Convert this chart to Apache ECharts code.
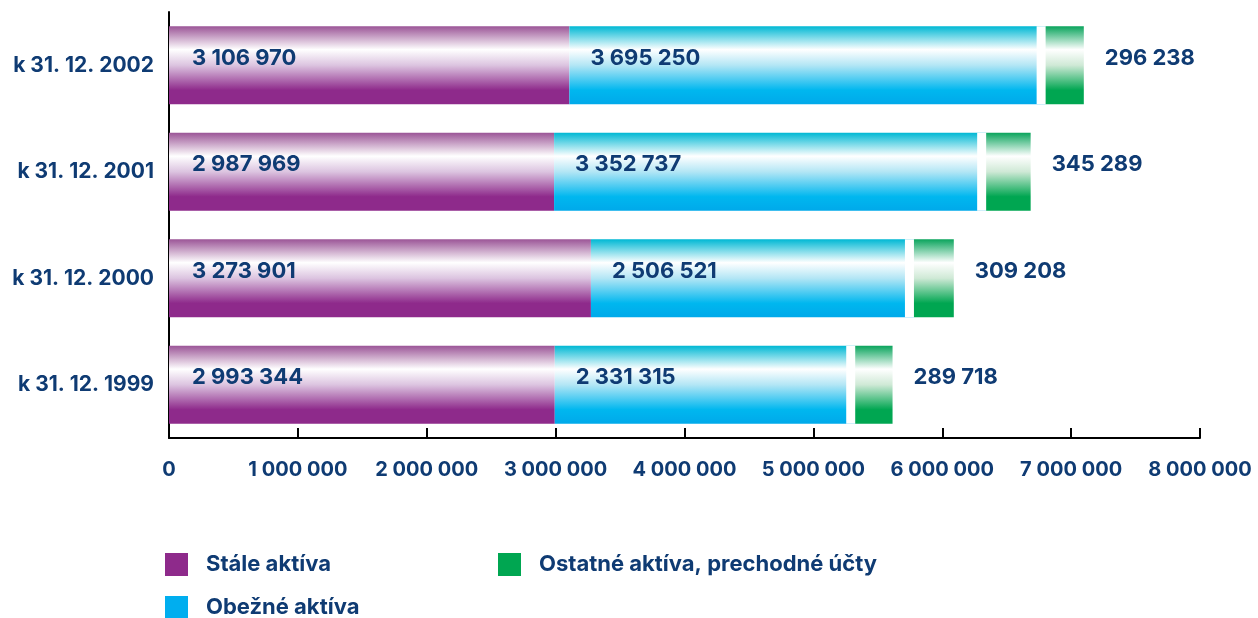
<!DOCTYPE html>
<html><head><meta charset="utf-8">
<script src="https://cdn.jsdelivr.net/npm/echarts@6/dist/echarts.min.js"></script>
<style>html,body{margin:0;padding:0;background:#fff}#c{width:1258px;height:618px}</style>
</head><body><div id="c"></div>
<script>
var categories = ['k 31. 12. 1999', 'k 31. 12. 2000', 'k 31. 12. 2001', 'k 31. 12. 2002'];
var staleAktiva = [2993344, 3273901, 2987969, 3106970];
var obezneAktiva = [2331315, 2506521, 3352737, 3695250];
var ostatneAktiva = [289718, 309208, 345289, 296238];
var seriesNames = ['Stále aktíva', 'Obežné aktíva', 'Ostatné aktíva, prechodné účty'];
var xTickLabels = ['0', '1 000 000', '2 000 000', '3 000 000', '4 000 000', '5 000 000', '6 000 000', '7 000 000', '8 000 000'];

var TXT = '#0f3b73';
var FONT = 'Inter';
function fmt(v){ return String(v).replace(/\B(?=(\d{3})+(?!\d))/g, ' '); }
function grad(top, mid, low, bottom){
  return new echarts.graphic.LinearGradient(0,0,0,1,[
    {offset:0,color:top},{offset:0.3,color:'#ffffff'},{offset:0.5,color:mid},{offset:0.82,color:low},{offset:1,color:bottom}]);
}
var lbl = {show:true, color:TXT, fontFamily:FONT, fontWeight:'bold', fontSize:22, formatter:function(p){return fmt(p.value);}, offset:[0,-7]};
var legText = {color:TXT, fontFamily:FONT, fontWeight:'bold', fontSize:22, padding:[0,0,0,13]};

var chart = echarts.init(document.getElementById('c'), null, {renderer:'canvas'});
chart.setOption({
  animation:false,
  backgroundColor:'#fff',
  grid:{left:169, right:58, top:12, bottom:180, containLabel:false},
  xAxis:{type:'value', min:0, max:8000000, interval:1000000,
    axisLine:{show:true, lineStyle:{color:'#000', width:2}},
    axisTick:{show:true, inside:true, length:10, lineStyle:{color:'#000', width:2}},
    splitLine:{show:false},
    axisLabel:{color:TXT, fontFamily:FONT, fontWeight:'bold', fontSize:20, margin:22,
      formatter:function(v){ return xTickLabels[Math.round(v/1000000)]; }}},
  yAxis:{type:'category', data:categories,
    axisLine:{show:true, lineStyle:{color:'#000', width:2}},
    axisTick:{show:false},
    axisLabel:{color:TXT, fontFamily:FONT, fontWeight:'bold', fontSize:21, margin:15}},
  legend:[
    {left:165, top:553, padding:0, itemWidth:23, itemHeight:23, icon:'rect', selectedMode:false,
     textStyle:legText, data:[{name:seriesNames[0], itemStyle:{color:'#8e2a8b'}}]},
    {left:165, top:596, padding:0, itemWidth:23, itemHeight:23, icon:'rect', selectedMode:false,
     textStyle:legText, data:[{name:seriesNames[1], itemStyle:{color:'#00aeef'}}]},
    {left:498, top:553, padding:0, itemWidth:23, itemHeight:23, icon:'rect', selectedMode:false,
     textStyle:legText, data:[{name:seriesNames[2], itemStyle:{color:'#00a651'}}]}
  ],
  series:[
    {name:seriesNames[0], type:'bar', stack:'a', barWidth:78, data:staleAktiva,
     itemStyle:{color:grad('#9b5597','#dcc4e0','#8e2a8b','#8e2a8b')},
     label:Object.assign({position:'insideLeft', distance:23}, lbl)},
    {name:seriesNames[1], type:'bar', stack:'a', barWidth:78, data:obezneAktiva,
     itemStyle:{color:grad('#00b8d4','#b3e6f5','#00b7ef','#00a9ea')},
     label:Object.assign({position:'insideLeft', distance:21}, lbl)},
    {name:seriesNames[2], type:'bar', stack:'a', barWidth:78, data:ostatneAktiva,
     itemStyle:{color:grad('#0aa45c','#cfe9d6','#00a651','#00a651'),
       shadowColor:'#ffffff', shadowBlur:0, shadowOffsetX:-9, shadowOffsetY:0},
     label:Object.assign({position:'right', distance:21}, lbl)}
  ]
});
</script></body></html>
